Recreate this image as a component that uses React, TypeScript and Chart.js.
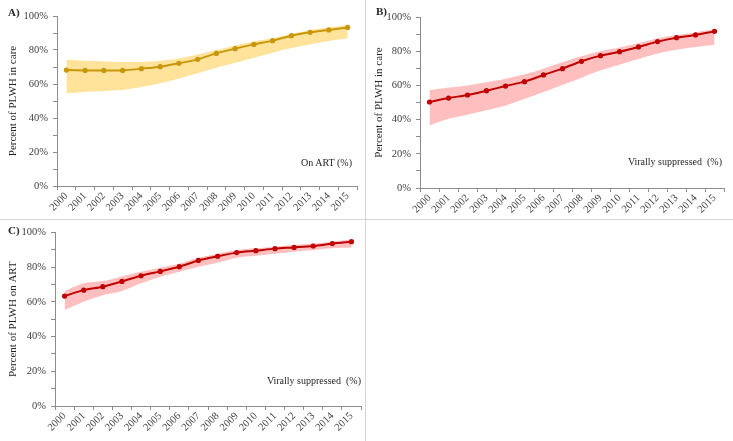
import React, { useEffect, useRef } from "react";
import { Chart, registerables } from "chart.js";

Chart.register(...registerables);

const years = ["2000","2001","2002","2003","2004","2005","2006","2007","2008","2009","2010","2011","2012","2013","2014","2015"];

const onArt = [68.2, 68, 68, 68, 69, 70.2, 72.2, 74.5, 78, 80.8, 83.3, 85.5, 88.4, 90.4, 91.8, 93.3];
const onArtUpper = [74.3, 73.7, 73.3, 73, 73, 73.7, 75, 77.3, 80, 82.7, 85, 87, 89.4, 91.8, 93.3, 94.5];
const onArtLower = [54.5, 55.3, 55.9, 56.5, 58.2, 60.4, 63.3, 66.3, 69.6, 72.5, 75.5, 78.4, 81.2, 83.3, 85.3, 86.9];

const vsCare = [50.3, 52.6, 54.4, 56.9, 59.6, 62.2, 66.1, 69.8, 74.1, 77.4, 79.7, 82.5, 85.6, 87.9, 89.5, 91.6];
const vsCareUpper = [57.1, 58.7, 60, 61.8, 63.9, 66.5, 69.8, 73.5, 77, 79.9, 82.1, 84.8, 87.5, 89.5, 91, 92.8];
const vsCareLower = [36.6, 40.5, 42.9, 45.4, 48.3, 52, 56.1, 60.2, 64.5, 68.8, 72.1, 75.4, 78.6, 80.9, 82.5, 83.8];

const vsArt = [63.3, 66.7, 68.7, 71.7, 75, 77.5, 80.2, 83.8, 86.2, 88.3, 89.4, 90.6, 91.3, 92.1, 93.5, 94.6];
const vsArtUpper = [66.2, 70.6, 71.9, 74.6, 77.3, 79.6, 82.1, 85.4, 87.7, 89.8, 90.8, 91.7, 92.7, 93.5, 94.6, 95.8];
const vsArtLower = [55.2, 60, 63.8, 66.2, 70.6, 74.4, 77.3, 80.2, 82.5, 85.4, 86.5, 87.7, 88.8, 89.8, 90.8, 91.2];

const yTicks = [0, 10, 20, 30, 40, 50, 60, 70, 80, 90, 100];
const yLabelStep = 20;

const FONT = "'Liberation Serif', 'Times New Roman', serif";

type PanelProps = {
  left: number; top: number; width: number; height: number;
  chartLeft: number; chartRight: number; chartTop: number; chartBottom: number;
  values: number[]; upper: number[]; lower: number[];
  lineColor: string; bandColor: string; yTitle: string;
};

function Panel(p: PanelProps) {
  const ref = useRef<HTMLCanvasElement | null>(null);
  useEffect(() => {
    if (!ref.current) return;
    const chart = new Chart(ref.current, {
      type: "line",
      data: {
        labels: years,
        datasets: [
          {
            data: p.values,
            borderColor: p.lineColor,
            backgroundColor: p.lineColor,
            borderWidth: 2,
            pointRadius: 2.6,
            pointBackgroundColor: p.lineColor,
            pointBorderWidth: 0,
            tension: 0.3,
            fill: false,
            order: 0,
          },
          {
            data: p.upper,
            borderWidth: 0,
            borderColor: "rgba(0,0,0,0)",
            backgroundColor: p.bandColor,
            pointRadius: 0,
            tension: 0.3,
            fill: "+1",
            order: 1,
          },
          {
            data: p.lower,
            borderWidth: 0,
            borderColor: "rgba(0,0,0,0)",
            backgroundColor: p.bandColor,
            pointRadius: 0,
            tension: 0.3,
            fill: false,
            order: 2,
          },
        ],
      },
      options: {
        animation: false,
        responsive: false,
        maintainAspectRatio: false,
        layout: { padding: { left: 0, right: p.width - p.chartRight, top: p.chartTop, bottom: 0 } },
        plugins: { legend: { display: false }, tooltip: { enabled: false } },
        scales: {
          x: {
            offset: true,
            grid: { display: true, offset: true, drawOnChartArea: false, drawTicks: true, tickLength: 4, color: "#8c8c8c" },
            border: { display: true, color: "#8c8c8c", width: 1 },
            ticks: {
              minRotation: 45, maxRotation: 45, autoSkip: false,
              font: { family: FONT, size: 10.5 }, color: "#404040", padding: 0,
            },
            afterFit: (s: any) => { s.height = p.height - p.chartBottom; },
          },
          y: {
            min: 0, max: 100,
            afterBuildTicks: (s: any) => { s.ticks = yTicks.map((v) => ({ value: v })); },
            grid: { display: true, drawOnChartArea: false, drawTicks: true, tickLength: 4, color: "#8c8c8c" },
            border: { display: true, color: "#8c8c8c", width: 1 },
            ticks: {
              autoSkip: false,
              callback: (v: any) => (Number(v) % yLabelStep === 0 ? v + "%" : ""),
              font: { family: FONT, size: 10.5 }, color: "#404040", padding: 5,
            },
            title: {
              display: true, text: p.yTitle,
              font: { family: FONT, size: 11 }, color: "#262626", padding: { top: 7, bottom: 0 },
            },
            afterFit: (s: any) => { s.width = p.chartLeft; },
          },
        },
      },
    } as any);
    return () => chart.destroy();
  }, []);
  return (
    <canvas
      ref={ref}
      width={p.width}
      height={p.height}
      style={{ position: "absolute", left: p.left, top: p.top, width: p.width, height: p.height }}
    />
  );
}

const textStyle: React.CSSProperties = { position: "absolute", fontFamily: FONT, color: "#262626", whiteSpace: "nowrap" };

export default function App() {
  return (
    <div style={{ position: "absolute", left: 0, top: 0, width: 733, height: 441, background: "#fff", overflow: "hidden" }}>
      <Panel left={0} top={0} width={365} height={219} chartLeft={57} chartRight={357} chartTop={16} chartBottom={186}
        values={onArt} upper={onArtUpper} lower={onArtLower} lineColor="#C8960A" bandColor="#FFE39A" yTitle="Percent of PLWH in care" />
      <Panel left={366} top={0} width={367} height={219} chartLeft={54} chartRight={358} chartTop={17} chartBottom={188}
        values={vsCare} upper={vsCareUpper} lower={vsCareLower} lineColor="#C00000" bandColor="#FFBFBF" yTitle="Percent of PLWH in care" />
      <Panel left={0} top={221} width={365} height={220} chartLeft={55} chartRight={361} chartTop={11} chartBottom={185}
        values={vsArt} upper={vsArtUpper} lower={vsArtLower} lineColor="#C00000" bandColor="#FFBFBF" yTitle="Percent of PLWH on ART" />

      <div style={{ position: "absolute", left: 0, top: 219, width: 733, height: 1, background: "#d6d6d6" }} />
      <div style={{ position: "absolute", left: 365, top: 0, width: 1, height: 441, background: "#d6d6d6" }} />

      <div style={{ ...textStyle, left: 8, top: 6, fontSize: 11, fontWeight: "bold" }}>A)</div>
      <div style={{ ...textStyle, left: 376, top: 5, fontSize: 11, fontWeight: "bold" }}>B)</div>
      <div style={{ ...textStyle, left: 8, top: 224, fontSize: 11, fontWeight: "bold" }}>C)</div>

      <div style={{ ...textStyle, right: 733 - 352, top: 157, fontSize: 10 }}>On ART (%)</div>
      <div style={{ ...textStyle, right: 733 - 722, top: 156, fontSize: 10 }}>Virally suppressed&nbsp;&nbsp;(%)</div>
      <div style={{ ...textStyle, right: 733 - 361, top: 375, fontSize: 10 }}>Virally suppressed&nbsp;&nbsp;(%)</div>
    </div>
  );
}
